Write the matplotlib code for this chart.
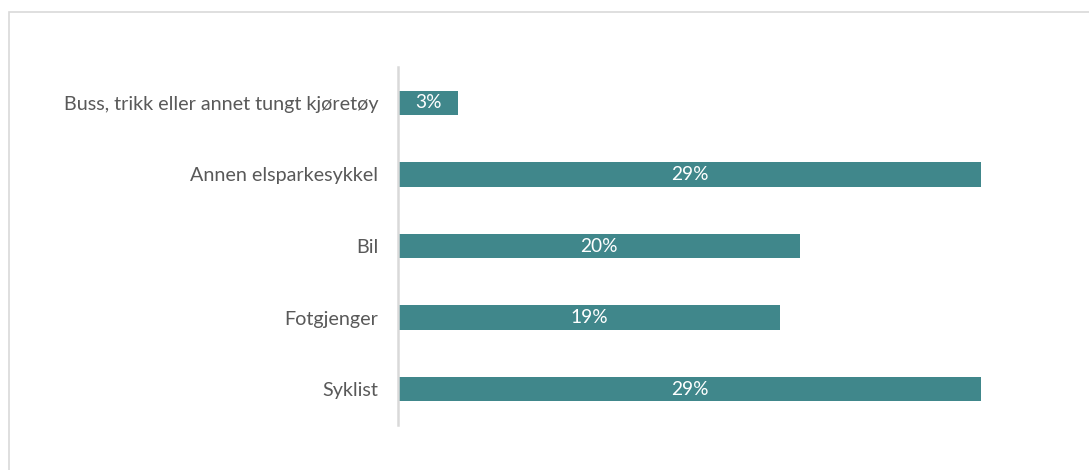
import matplotlib.pyplot as plt
from matplotlib.patches import Rectangle

categories = [
    "Buss, trikk eller annet tungt kjøretøy",
    "Annen elsparkesykkel",
    "Bil",
    "Fotgjenger",
    "Syklist",
]
shares = [3, 29, 20, 19, 29]

BAR_COLOR = "#40878b"
TEXT_COLOR = "#595959"
LINE_COLOR = "#d9d9d9"

W, H = 1089, 470
fig = plt.figure(figsize=(W / 100, H / 100), dpi=100)

# outer chart frame, runs off the right and bottom edges
fig.patches.append(
    Rectangle((9 / W, -0.1), 1.2, 1 - 12 / H + 0.1, transform=fig.transFigure,
              fill=False, edgecolor=LINE_COLOR, linewidth=1.2)
)

x0, x1 = 398, 398 + 33 * 20.1
y_top, y_bot = 67, 425
ax = fig.add_axes([x0 / W, 1 - y_bot / H, (x1 - x0) / W, (y_bot - y_top) / H])

pos = list(range(len(categories)))
bars = ax.barh(pos, shares, height=0.34, color=BAR_COLOR)
ax.set_ylim(len(categories) - 0.5, -0.5)
ax.set_xlim(0, 33)

for bar, v in zip(bars, shares):
    ax.text(bar.get_width() / 2, bar.get_y() + bar.get_height() / 2, f"{v}%",
            ha="center", va="center", color="white", fontsize=13.8, family="Lato")

ax.set_yticks(pos)
ax.set_yticklabels(categories, fontsize=14.2, color=TEXT_COLOR, family="Lato")
ax.tick_params(axis="y", length=0, pad=14.4)
ax.set_xticks([])
for side in ["top", "right", "bottom"]:
    ax.spines[side].set_visible(False)
ax.spines["left"].set_color(LINE_COLOR)
ax.spines["left"].set_linewidth(1.8)

fig.savefig("out.png", dpi=100)
